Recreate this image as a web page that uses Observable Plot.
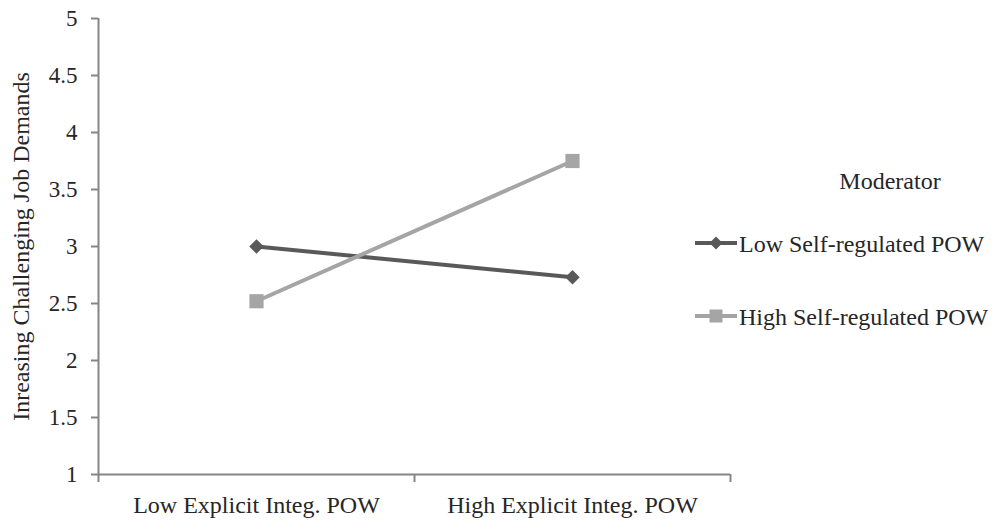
<!DOCTYPE html>
<html>
<head>
<meta charset="utf-8">
<script src="https://cdn.jsdelivr.net/npm/d3@7"></script>
<script src="https://cdn.jsdelivr.net/npm/@observablehq/plot@0.6"></script>
<style>
  html, body { margin: 0; padding: 0; background: #fff; }
  #wrap { position: relative; width: 1004px; height: 522px; font-family: 'Liberation Serif', 'DejaVu Serif', serif; }
  #wrap svg, #wrap svg text { font-family: 'Liberation Serif', 'DejaVu Serif', serif !important; }
  #legend { position: absolute; left: 0; top: 0; }
</style>
</head>
<body>
<div id="wrap"></div>
<script>
const categories = ["Low Explicit Integ. POW", "High Explicit Integ. POW"];
const seriesNames = ["Low Self-regulated POW", "High Self-regulated POW"];
const lowSelfValues = [3.0, 2.73];
const highSelfValues = [2.52, 3.75];
const yTicks = [1, 1.5, 2, 2.5, 3, 3.5, 4, 4.5, 5];
const yTitle = "Inreasing Challenging Job Demands";
const legendTitle = "Moderator";

const darkColor = "#595959";
const lightColor = "#a5a5a5";
const axisColor = "#868686";
const textColor = "#262626";
const serifFont = "'Liberation Serif', 'DejaVu Serif', serif";

const lowData = categories.map((c, i) => ({pos: i + 0.5, value: lowSelfValues[i], series: seriesNames[0]}));
const highData = categories.map((c, i) => ({pos: i + 0.5, value: highSelfValues[i], series: seriesNames[1]}));

const chart = Plot.plot({
  width: 1004,
  height: 522,
  marginLeft: 98,
  marginRight: 274,
  marginTop: 18,
  marginBottom: 48,
  style: {fontFamily: serifFont, fontSize: "23px", color: textColor, background: "white", overflow: "visible"},
  x: {domain: [0, categories.length]},
  y: {domain: [1, 5]},
  marks: [
    Plot.axisY({ticks: yTicks, tickSize: 7, tickPadding: 14, tickFormat: d => String(d), stroke: axisColor, strokeWidth: 2, fill: textColor, label: null, fontSize: 23}),
    Plot.axisX({ticks: d3.range(categories.length + 1), tickSize: 8, tickFormat: () => "", stroke: axisColor, strokeWidth: 2, label: null}),
    Plot.axisX({ticks: categories.map((c, i) => i + 0.5), tickSize: 0, tickPadding: 21, tickFormat: d => categories[Math.floor(d)], fill: textColor, label: null, fontSize: 24}),
    Plot.ruleY([1], {stroke: axisColor, strokeWidth: 2}),
    Plot.ruleX([0], {stroke: axisColor, strokeWidth: 2}),
    Plot.text([yTitle], {frameAnchor: "left", text: d => d, rotate: -90, dx: -77, textAnchor: "middle", fontSize: 24, fill: textColor}),
    Plot.line(lowData, {x: "pos", y: "value", stroke: darkColor, strokeWidth: 4}),
    Plot.line(highData, {x: "pos", y: "value", stroke: lightColor, strokeWidth: 4}),
    Plot.dot(lowData, {x: "pos", y: "value", symbol: "diamond2", r: 6.5, fill: darkColor, stroke: "none"}),
    Plot.dot(highData, {x: "pos", y: "value", symbol: "square", r: 8, fill: lightColor, stroke: "none"})
  ]
});

const wrap = document.getElementById("wrap");
wrap.appendChild(chart);

// Legend
const ns = "http://www.w3.org/2000/svg";
const leg = document.createElementNS(ns, "svg");
leg.setAttribute("id", "legend");
leg.setAttribute("width", 1004);
leg.setAttribute("height", 522);
leg.setAttribute("font-family", serifFont);
leg.setAttribute("font-size", "24");
function el(tag, attrs, text) {
  const e = document.createElementNS(ns, tag);
  for (const k in attrs) e.setAttribute(k, attrs[k]);
  if (text != null) e.textContent = text;
  leg.appendChild(e);
  return e;
}
el("text", {x: 890, y: 189, "text-anchor": "middle", fill: textColor}, legendTitle);
const entries = [
  {name: seriesNames[0], color: darkColor, shape: "diamond", y: 243},
  {name: seriesNames[1], color: lightColor, shape: "square", y: 316}
];
for (const e of entries) {
  el("line", {x1: 695, x2: 737, y1: e.y, y2: e.y, stroke: e.color, "stroke-width": 4});
  if (e.shape === "diamond") {
    const cx = 716, cy = e.y, r = 6.5;
    el("polygon", {points: `${cx},${cy - r} ${cx + r},${cy} ${cx},${cy + r} ${cx - r},${cy}`, fill: e.color});
  } else {
    el("rect", {x: 716 - 6.5, y: e.y - 6.5, width: 13, height: 13, fill: e.color});
  }
  el("text", {x: 739, y: e.y + 9, fill: textColor}, e.name);
}
wrap.appendChild(leg);
</script>
</body>
</html>
